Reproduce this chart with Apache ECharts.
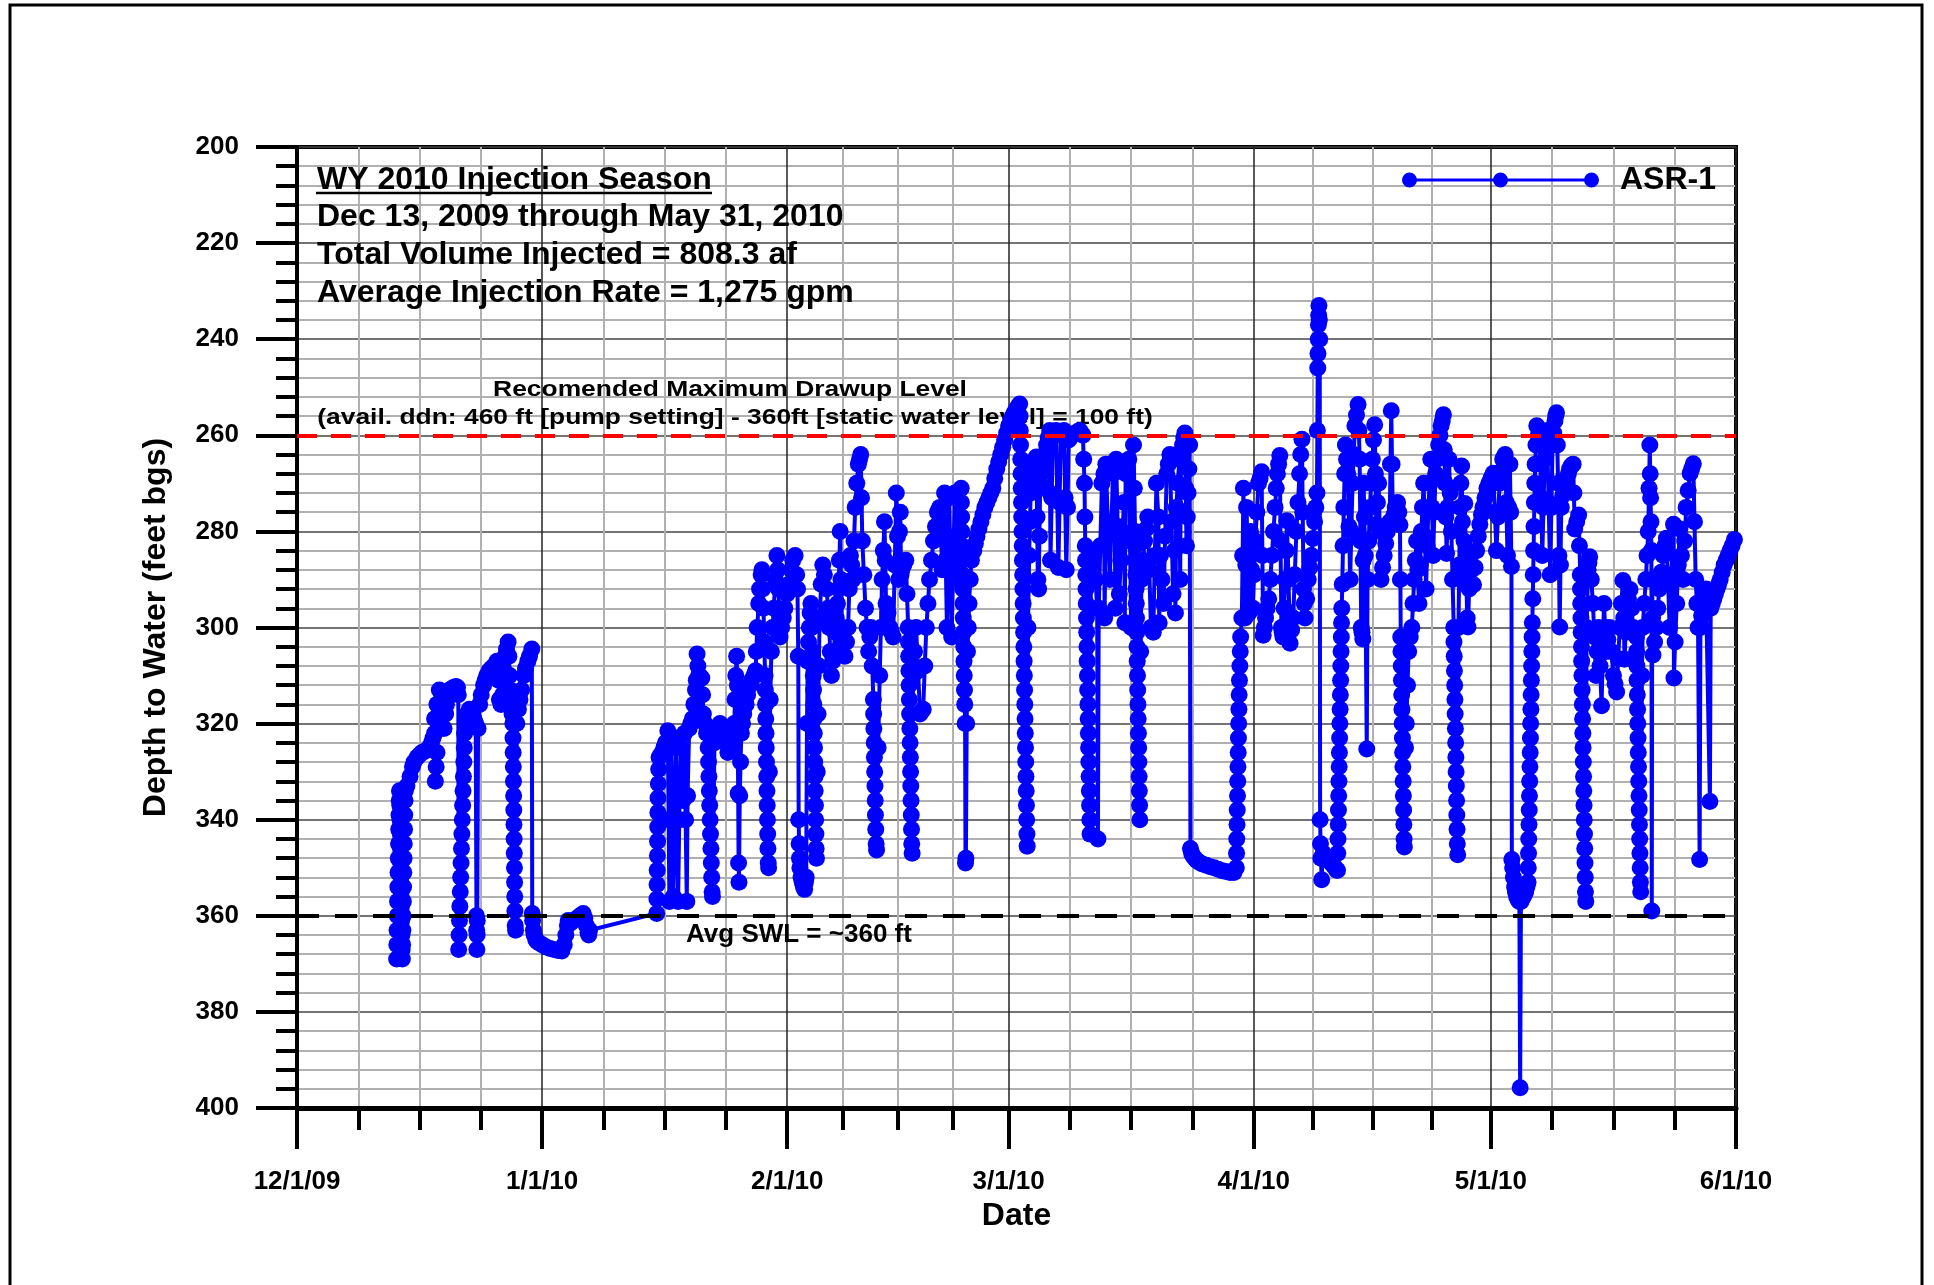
<!DOCTYPE html>
<html>
<head>
<meta charset="utf-8">
<title>ASR-1 WY 2010 Injection Season</title>
<script src="https://cdn.jsdelivr.net/npm/echarts@6/dist/echarts.min.js"></script>
<style>
  html, body { margin: 0; padding: 0; background: #fff; }
  #chart { width: 1934px; height: 1285px; }
</style>
</head>
<body>
<div id="chart"></div>
<script>
// readings: [days after 12/1/09, depth to water in ft bgs]
var decReadings = [
  [12.6,369],[12.63,366],[12.66,363],[12.69,360],[12.72,357],[12.75,354],[12.78,351],[12.81,348],[12.84,345],[12.87,342],[12.9,339],[12.93,336],[12.96,334],
  [13.0,337],[13.03,340],[13.06,343],[13.09,346],[13.12,349],[13.15,352],[13.18,355],[13.21,358],[13.24,361],[13.27,364],[13.3,367],[13.33,369],
  [13.36,366],[13.39,363],[13.42,360],[13.45,357],[13.48,354],[13.51,351],[13.54,348],[13.57,345],[13.6,342],[13.63,339],[13.66,336],[13.7,334],
  [13.9,333],[14.3,331],[14.6,329],[14.8,328],[15.2,327],[15.5,326.5],[15.8,326],[16.1,325.8],[16.4,325.5],[16.7,325],[17.0,324],[17.2,323],[17.4,322],
  [17.6,329],[17.5,332],[17.7,326],[17.4,319],[17.7,316],[18.0,313],[18.3,314],[18.5,315],[18.8,318],[18.6,321],[18.9,316],[19.1,314],[19.3,313],
  [19.6,312.7],[19.8,312.5],[20.1,312.3],[20.3,312.5],[20.4,314],
  [20.45,367],[20.5,364],[20.55,361],[20.6,358],[20.65,355],[20.7,352],[20.75,349],[20.8,346],[20.85,343],[20.9,340],[20.95,337],[21.0,334],
  [21.05,331],[21.1,328],[21.15,325],[21.2,322],[21.3,320],[21.5,318],[21.8,317],[22.0,317.5],[22.2,318],[22.4,319],[22.6,320],
  [22.7,360],[22.72,363],[22.75,367],[22.78,364],[22.8,361],
  [22.9,321],[23.1,316],[23.3,314],[23.6,312],[23.8,311],[24.0,310],[24.3,309],[24.6,308.5],[24.9,308],[25.3,307],[25.5,311],[25.6,315],
  [25.8,316],[26.0,314],[26.2,309],[26.3,306],[26.5,304.5],[26.7,303],[26.8,306],[26.9,310],[27.0,313],[27.1,316],[27.2,318],
  [27.3,320],[27.32,323],[27.34,326],[27.36,329],[27.38,332],[27.4,335],[27.42,338],[27.44,341],[27.46,344],[27.48,347],[27.5,350],
  [27.52,353],[27.54,356],[27.56,359],[27.6,362],[27.65,363],
  [27.8,320],[28.0,317],[28.2,315],[28.4,313],[28.7,310],[28.9,308.5],[29.2,307],[29.4,306],[29.7,304.5],
  [29.75,359.5],[29.8,361],[29.9,363],[30.0,364],[30.2,365],[30.4,365.4],[30.7,365.7]
];
var janReadings = [
  [31.0,366],[31.5,366.5],[32.0,366.8],[32.5,367],[33.0,367.2],[33.5,367.3],[33.8,366],[34.0,364],[34.2,362],[34.3,361],[34.6,361.5],
  [35.0,361],[35.4,360.5],[35.8,360],[36.2,359.5],[36.4,360.5],[36.6,362],[36.8,363.5],[36.9,364],[37.0,363],
  [45.5,359.5],[45.52,356.5],[45.54,353.5],[45.56,350.5],[45.58,347.5],[45.6,344.5],[45.62,341.5],[45.64,338.5],[45.66,335.5],[45.7,332.5],
  [45.75,329.5],[45.8,327],[46.0,326.5],[46.2,326],[46.4,325],[46.6,324],[46.9,321.5],
  [47.0,340],[47.1,357],[47.2,340],[47.3,325],[47.45,340],[47.6,356],[47.75,340],[47.9,323],[48.05,340],[48.2,357],[48.35,340],[48.5,325],
  [48.8,336],[49.0,322],[49.15,340],[49.3,357],[49.4,335],[49.6,321],[49.8,320],[50.0,319],[50.2,316],[50.4,313],[50.5,311],[50.6,305.5],
  [50.7,308],[50.8,310],[51.0,310.2],[51.2,310.5],[51.3,314],[51.4,318],[51.6,320],[51.8,322],[52.0,325],
  [52.05,328],[52.1,331],[52.15,334],[52.2,337],[52.25,340],[52.3,343],[52.35,346],[52.4,349],[52.45,352],[52.5,355],[52.55,356],
  [52.8,324],[53.0,322],[53.3,321],[53.5,320],[53.8,321],[54.0,322],[54.3,324],[54.5,326],[54.8,325],[55.0,324],[55.2,322],[55.3,320],
  [55.4,315],[55.5,310],[55.6,306],[55.7,312],[55.8,334.5],[55.85,349],[55.9,353],[56.0,335],[56.1,328],[56.2,322],[56.35,320],[56.5,318],
  [56.8,316],[57.0,314],[57.3,312],[57.5,311],[57.8,310],[58.0,309],[58.1,305],[58.2,300],[58.4,295],[58.5,292],[58.7,289],[58.8,288],
  [58.9,292],[59.0,296],[59.1,303],[59.2,310],
  [59.23,313],[59.26,316],[59.29,319],[59.32,322],[59.35,325],[59.38,328],[59.41,331],[59.44,334],[59.47,337],[59.5,340],[59.53,343],
  [59.56,346],[59.6,349],[59.65,350],
  [59.75,330],[59.85,315],[60.0,305],[60.15,300],[60.3,296],[60.5,290],[60.7,285],[60.8,288],[60.9,292],[61.0,297],[61.1,302]
];
var febReadings = [
  [61.3,300],[61.5,298],[61.7,296],[62.0,293],[62.2,291],[62.5,288],[62.7,286],[63.0,285],[63.2,289],[63.3,292],[63.4,306],
  [63.45,340],[63.5,345],[63.55,348],[63.6,350],[63.75,352],[63.9,353],[64.05,354],[64.2,354.5],[64.3,353],[64.4,352],
  [64.5,320],[64.6,307],[64.7,303],[64.8,300],[64.9,297],[65.0,295],[65.1,300],[65.2,305],[65.3,310],
  [65.33,313],[65.36,316],[65.39,319],[65.42,322],[65.45,325],[65.48,328],[65.51,331],[65.54,334],[65.57,337],[65.6,340],[65.63,343],
  [65.66,346],[65.7,348],
  [65.8,330],[65.9,318],[66.0,308],[66.1,298],[66.3,291],[66.5,287],[66.7,289],[67.0,292],[67.15,296],[67.3,300],[67.45,305],[67.6,310],
  [67.75,307],[67.9,305],[68.05,301],[68.2,298],[68.35,295],[68.5,292],[68.6,286],[68.7,280],[68.8,290],[68.9,300],[69.1,303],[69.3,306],
  [69.5,303],[69.7,300],[69.85,292],[70.0,285],[70.15,287],[70.3,290],[70.45,282],[70.6,275],[70.8,270],[71.0,266],[71.15,265],[71.3,264],
  [71.4,273],[71.5,282],[71.7,289],[71.9,296],[72.1,300],[72.3,305],[72.45,302],[72.6,300],[72.75,308],
  [72.9,315],[72.93,318],[72.96,321],[73.0,324],[73.03,327],[73.06,330],[73.1,333],[73.13,336],[73.16,339],[73.2,342],[73.25,345],[73.3,346.3],
  [73.5,325],[73.7,310],[73.85,300],[74.0,290],[74.15,284],[74.3,278],[74.4,286],[74.5,295],[74.75,297],[75.0,300],[75.2,301],[75.4,302],
  [75.6,287],[75.8,272],[75.95,281],[76.1,290],[76.2,280],[76.3,276],[76.4,289],[76.5,288],[76.75,287],[77.0,286],[77.15,293],[77.3,300],
  [77.33,303],[77.36,306],[77.39,309],[77.42,312],[77.45,315],[77.48,318],[77.51,321],[77.54,324],[77.57,327],[77.6,330],[77.63,333],
  [77.66,336],[77.69,339],[77.72,342],[77.75,345],[77.8,347],
  [77.9,310],[78.1,305],[78.3,300],[78.55,309],[78.8,318],[79.0,317.5],[79.2,317],[79.4,308],[79.6,300],[79.8,295],[80.0,290],[80.25,286],
  [80.5,282],[80.75,279],[81.0,276],[81.15,275.5],[81.3,275],[81.45,281],[81.6,288],[81.75,280],[81.9,272],[82.05,286],[82.2,300],
  [82.35,286],[82.5,273],[82.65,288],[82.8,302],[83.0,287],[83.2,272],[83.4,281],[83.6,290],[83.8,280],[84.0,271],
  [84.03,274],[84.06,277],[84.09,280],[84.12,283],[84.15,286],[84.18,289],[84.21,292],[84.24,295],[84.27,298],[84.3,301],[84.33,304],
  [84.36,307],[84.39,310],[84.42,313],[84.45,316],[84.5,320],[84.55,349],[84.6,348],[84.7,320],[84.8,305],[84.9,300],[85.0,295],
  [85.15,290],[85.3,286],[85.6,284],[85.8,282.5],[86.0,281],[86.25,279.5],[86.5,278],[86.75,276.5],[87.0,275],[87.25,274],[87.5,273],
  [87.75,272],[88.0,271],[88.25,269],[88.5,267],[88.75,265.5],[89.0,264],[89.25,262.5],[89.5,261],[89.75,259.5],[90.0,258],[90.25,257],
  [90.5,256],[90.75,255.2],[91.0,254.5],[91.2,254],[91.4,253.5]
];
var marReadings = [
  [91.45,256],[91.48,259],[91.51,262],[91.54,265],[91.57,268],[91.6,271],[91.63,274],[91.66,277],[91.69,280],[91.72,283],[91.75,286],
  [91.78,289],[91.81,292],[91.84,295],[91.87,298],[91.9,301],[91.93,304],[91.96,307],[91.99,310],[92.02,313],[92.05,316],[92.08,319],
  [92.11,322],[92.14,325],[92.17,328],[92.2,331],[92.23,334],[92.26,337],[92.29,340],[92.32,343],[92.35,345.5],
  [92.45,300],[92.6,285],[92.7,278],[92.8,272],[92.95,269],[93.1,267],[93.3,265.5],[93.5,264.5],[93.6,277],[93.7,290],[93.8,292],
  [93.9,281],[94.0,270],[94.15,268],[94.3,266],[94.55,264],[94.8,262],[95.0,260.5],[95.2,259],[95.25,272],[95.3,286],[95.45,273],
  [95.6,260],[95.8,259.5],[96.0,259],[96.15,273],[96.3,287.5],[96.45,274],[96.6,260],[96.8,259.5],[97.0,259],[97.15,273],[97.3,288],
  [97.45,275],[97.6,261],[97.8,260.5],[98.0,260],[98.25,259.7],[98.5,259.5],[98.75,259.2],[99.0,259],[99.2,259.5],[99.4,260],
  [99.5,265],[99.6,270],[99.65,277],
  [99.7,283],[99.73,286],[99.76,289],[99.79,292],[99.82,295],[99.85,298],[99.88,301],[99.91,304],[99.94,307],[99.97,310],[100.0,313],
  [100.03,316],[100.06,319],[100.09,322],[100.12,325],[100.15,328],[100.18,331],[100.21,334],[100.24,337],[100.27,340],[100.3,343],
  [100.4,290],[100.6,287],[100.8,285],[101.0,290],[101.2,296],[101.3,344],[101.4,296],[101.6,283],[101.8,270],[102.05,268],[102.15,298],
  [102.3,266],[102.55,278],[102.8,290],[103.0,279],[103.2,268],[103.4,266.5],[103.5,296],[103.6,265],[103.8,279],[104.0,293],[104.2,286],
  [104.4,280],[104.6,274],[104.7,299],[104.8,268],[105.0,266.5],[105.2,265],[105.35,282],[105.5,300],[105.65,281],[105.8,262],[105.9,271],[106.0,280],
  [106.03,283],[106.06,286],[106.09,289],[106.12,292],[106.15,295],[106.18,298],[106.21,301],[106.24,304],[106.27,307],[106.3,310],
  [106.33,313],[106.36,316],[106.39,319],[106.42,322],[106.45,325],[106.48,328],[106.51,331],[106.54,334],[106.57,337],[106.6,340],
  [106.7,305],[106.8,290],[107.0,286],[107.2,282],[107.4,279.5],[107.6,277],[107.8,288],[108.0,300],[108.15,300.5],[108.3,301],
  [108.5,285],[108.7,270],[108.95,277],[109.05,299],[109.2,285],[109.4,290],[109.6,295],[109.8,281],[110.0,268],[110.2,266],[110.4,264],
  [110.6,278],[110.8,293],[111.0,284],[111.1,297],[111.2,275],[111.4,270],[111.6,265],[111.7,290],[111.8,263.5],[112.0,262],[112.15,260.5],
  [112.3,259.5],[112.4,271],[112.5,283],[112.6,277],[112.7,272],[112.8,267],[112.9,262],
  [113.0,346],[113.15,347],[113.3,347.5],[113.55,348],[113.8,348.5],[114.15,348.9],[114.5,349.2],[115.0,349.5],[115.5,349.8],[116.0,350],
  [116.5,350.3],[117.0,350.6],[117.5,350.8],[118.0,351],[118.5,351],
  [118.8,350],[118.83,347],[118.86,344],[118.89,341],[118.92,338],[118.95,335],[118.98,332],[119.01,329],[119.04,326],[119.07,323],
  [119.1,320],[119.13,317],[119.16,314],[119.2,311],[119.25,308],[119.3,305],[119.35,302],[119.5,298]
];
var aprReadings = [
  [119.6,285],[119.7,271],[119.8,285],[119.9,298],[120.0,287],[120.1,275],[120.25,286],[120.4,297],[120.5,289],[120.6,280],[120.75,288],
  [120.9,296],[121.05,289],[121.2,282],[121.4,276],[121.6,270],[121.8,269],[122.0,267.6],[122.1,285],[122.2,301.6],[122.35,300],
  [122.5,298],[122.7,296],[122.9,294],[123.1,290],[123.3,285],[123.5,280],[123.7,275],[123.85,271],[124.0,268],[124.15,266],[124.3,264.2],
  [124.4,282],[124.5,300],[124.6,301],[124.7,302],[124.85,296],[125.0,290],[125.1,284],[125.2,277.8],[125.4,290],[125.6,303.3],
  [125.8,300.5],[126.0,298],[126.2,289],[126.4,280],[126.6,274],[126.8,268],[126.95,264],[127.1,260.8],[127.2,276],[127.3,292],
  [127.4,295],[127.5,298],[127.7,294],[127.9,290],[128.1,287.5],[128.3,285],[128.5,281.5],[128.7,278],[128.85,275],[129.0,272],
  [129.05,259],[129.1,246],[129.13,243],[129.16,240],[129.19,237],[129.22,235],[129.25,233],[129.3,236],[129.35,240],
  [129.4,340],[129.45,345],[129.5,348],[129.6,352.5],[129.7,348],[129.8,347],[130.05,347.5],[130.3,348],[130.55,348.5],[130.8,349],
  [131.05,349.5],[131.3,350],[131.5,350.5],
  [131.6,350.5],[131.63,347],[131.66,344],[131.69,341],[131.72,338],[131.75,335],[131.78,332],[131.81,329],[131.84,326],[131.87,323],
  [131.9,320],[131.93,317],[131.96,314],[131.99,311],[132.02,308],[132.05,305],[132.08,302],[132.11,299],[132.14,296],[132.2,291],
  [132.3,283],[132.4,275],[132.5,268],[132.6,262],[132.75,265],[132.9,268],[133.05,279],[133.2,290],[133.35,280],[133.5,270],
  [133.65,264],[133.8,258],[134.0,255.8],[134.2,253.6],[134.3,259],[134.4,265],[134.5,282],[134.6,300],[134.7,301],[134.8,302.4],
  [134.85,286],[134.9,270],[135.0,277],[135.1,285],[135.3,325.3],[135.4,290],[135.55,282],[135.7,275],[135.85,270],[136.0,265],
  [136.15,261],[136.3,257.8],[136.4,268],[136.5,278.6],[136.65,274],[136.8,270],[136.95,280],[137.1,290],[137.3,287.5],[137.5,285],
  [137.7,282.5],[137.9,280],[138.05,279],[138.2,278],[138.3,266],[138.4,254.9],[138.5,266],[138.6,277.8],[138.75,276.5],[138.9,275],
  [139.05,274.5],[139.2,274],[139.35,276],[139.5,278.6],[139.55,290],
  [139.6,302],[139.63,305],[139.66,308],[139.69,311],[139.72,314],[139.75,317],[139.78,320],[139.81,323],[139.84,326],[139.87,329],
  [139.9,332],[139.93,335],[139.96,338],[139.99,341],[140.02,344],[140.05,345.7],
  [140.2,325],[140.3,320],[140.45,312],[140.6,305],[140.8,302],[141.0,300],[141.15,295],[141.3,290],[141.45,286],[141.6,282],[141.75,288],
  [141.9,295],[142.05,287],[142.2,280],[142.35,275],[142.5,270],[142.65,281],[142.8,292],[142.95,283],[143.1,275],[143.25,270],
  [143.4,265],[143.55,275],[143.7,285],[143.85,276],[144.0,268],[144.2,265],[144.4,262],[144.55,260],[144.7,258],[144.85,257],
  [145.0,255.7],[145.1,263],[145.2,270],[145.3,277],[145.4,284.6],[145.55,275],[145.7,265],[145.85,272],[146.0,280],[146.15,290],[146.3,300],
  [146.33,303],[146.36,306],[146.39,309],[146.42,312],[146.45,315],[146.48,318],[146.51,321],[146.54,324],[146.57,327],[146.6,330],
  [146.63,333],[146.66,336],[146.69,339],[146.72,342],[146.75,345],[146.8,347.3],
  [146.9,300],[147.0,287],[147.1,275],[147.2,270],[147.3,266.4],[147.4,278],[147.5,290],[147.6,282],[147.7,274.2],[147.85,286],
  [148.0,298],[148.1,299.9],[148.25,292],[148.4,285],[148.6,288],[148.8,291.1],[149.0,287.5],[149.2,284],[149.4,281],[149.6,278.5],
  [149.8,276.5],[150.0,275]
];
var mayReadings = [
  [150.25,273],[150.5,271],[150.75,270],[151.0,269],[151.15,268.5],[151.3,267.9],[151.5,276],[151.7,284],[151.9,277],[152.1,270],
  [152.3,267.5],[152.5,265],[152.65,264.5],[152.8,264],[152.95,274],[153.1,285],[153.25,275],[153.4,266],[153.5,276],[153.6,287.3],
  [153.65,348.3],[153.75,350],[153.85,352],[154.0,354],[154.1,355],[154.25,356],[154.4,356.5],[154.5,356.8],[154.6,357],[154.7,395.8],
  [154.8,357],[154.95,356.5],[155.1,356],[155.25,355.5],[155.4,355],[155.55,354],[155.7,353],
  [155.73,350],[155.76,347],[155.79,344],[155.82,341],[155.85,338],[155.88,335],[155.91,332],[155.94,329],[155.97,326],[156.0,323],
  [156.03,320],[156.06,317],[156.09,314],[156.12,311],[156.15,308],[156.18,305],[156.21,302],[156.24,299],[156.3,294],[156.35,289],
  [156.4,284],[156.45,279],[156.5,274],[156.55,270],[156.6,266],[156.7,262],[156.8,258],
  [157.0,260],[157.2,262],[157.35,273],[157.5,285],[157.65,275],[157.8,265],[157.95,262],[158.1,259],[158.3,274],[158.5,289],
  [158.65,275],[158.8,262],[158.95,259.5],[159.1,257],[159.2,256],[159.3,255.3],[159.4,262],[159.5,270],[159.6,285],[159.7,299.9],
  [159.8,287],[159.9,275],[160.1,272.5],[160.3,270],[160.55,269],[160.8,268],[160.95,267],[161.1,266.5],[161.25,266.2],[161.4,266],
  [161.5,272],[161.6,279.5],[161.85,278],[162.1,276.6],[162.2,283],[162.3,289],
  [162.33,292],[162.36,295],[162.39,298],[162.42,301],[162.45,304],[162.48,307],[162.51,310],[162.54,313],[162.57,316],[162.6,319],
  [162.63,322],[162.66,325],[162.69,328],[162.72,331],[162.75,334],[162.78,337],[162.81,340],[162.84,343],[162.87,346],[162.9,349],
  [162.93,352],[162.96,355],[163.0,357],
  [163.1,300],[163.3,288],[163.4,286.5],[163.5,285.3],[163.7,290],[163.9,295],[164.1,302],[164.3,310],[164.45,305],[164.6,300],
  [164.8,308],[165.0,316.3],[165.15,305],[165.3,295],[165.45,300],[165.6,305],[165.8,302.5],[166.0,300],[166.25,305],[166.5,310],
  [166.7,311.7],[166.9,313.4],[167.1,306.5],[167.3,300],[167.5,295],[167.7,290.2],[167.8,298],[167.9,306.6],[168.05,301],[168.2,296],
  [168.4,294],[168.6,292.1],[168.8,296],[169.0,300],[169.2,301],[169.4,302],
  [169.43,305],[169.46,308],[169.49,311],[169.52,314],[169.55,317],[169.58,320],[169.61,323],[169.64,326],[169.67,329],[169.7,332],
  [169.73,335],[169.76,338],[169.79,341],[169.82,344],[169.85,347],[169.88,350],[169.91,353],[169.95,355],
  [170.1,310],[170.2,300],[170.4,295],[170.6,290],[170.75,285],[170.9,280],[171.0,271],[171.1,262],[171.15,268],[171.2,273],
  [171.25,278],[171.3,284],[171.35,359],[171.4,290],[171.45,298],[171.5,305.7],[171.7,303],[171.9,300],[172.1,296],[172.3,292],
  [172.55,288.5],[172.8,285],[173.0,283],[173.2,281.4],[173.4,290],[173.6,300],[173.85,289],[174.1,278.5],[174.15,310.5],[174.3,303],
  [174.5,295],[174.7,287],[174.9,279.5],[175.1,285],[175.3,290],[175.5,282],[175.7,275],[175.95,271.5],[176.2,267.9],[176.4,266.9],
  [176.6,265.9],[176.75,278],[176.9,290],[177.05,295],[177.2,300],[177.4,348.3],[177.5,300],[177.65,297.5],[177.8,295],[178.0,293.5],
  [178.2,292],[178.7,336.2],[178.8,296],[179.0,295],[179.2,294],[179.4,293],[179.6,292],[179.8,291],[180.0,290],[180.25,288.5],
  [180.5,287],[180.75,286],[181.0,285],[181.25,284],[181.5,283],[181.8,281.7],[182.1,280.5]
];

var drawupLimit = 260;   // recommended max drawup level, ft bgs
var avgSwl = 360;        // average static water level, ft bgs

var DAY = 86400000;
var startMs = new Date(2009, 11, 1).getTime();
var endMs = new Date(2010, 5, 1).getTime();

var asr1 = [].concat(decReadings, janReadings, febReadings, marReadings, aprReadings, mayReadings)
  .map(function (p) { return [startMs + p[0] * DAY, p[1]]; });

var FONT = '"Liberation Sans", Arial, sans-serif';

// legend sample: line with three dots, like the original key
var legendIcon = 'path://M0,7.5 A7.5,7.5 0 1 1 15,7.5 A7.5,7.5 0 1 1 0,7.5 Z ' +
  'M91,7.5 A7.5,7.5 0 1 1 106,7.5 A7.5,7.5 0 1 1 91,7.5 Z ' +
  'M182,7.5 A7.5,7.5 0 1 1 197,7.5 A7.5,7.5 0 1 1 182,7.5 Z ' +
  'M7.5,6 L189.5,6 L189.5,9 L7.5,9 Z';

var option = {
  animation: false,
  backgroundColor: '#ffffff',
  textStyle: { fontFamily: FONT },
  grid: {
    left: 297, right: 198, top: 147, bottom: 177,
    show: true, borderColor: '#000', borderWidth: 4,
    containLabel: false, outerBoundsMode: 'none'
  },
  legend: {
    left: 1402, top: 164, padding: 0,
    selectedMode: false,
    itemWidth: 197, itemHeight: 16,
    itemStyle: { color: '#0000ff', borderWidth: 0 },
    data: [{ name: 'ASR-1', icon: legendIcon }],
    textStyle: { fontFamily: FONT, fontSize: 32, fontWeight: 'bold', color: '#000', padding: [0, 0, 0, 16] }
  },
  xAxis: {
    type: 'time',
    min: startMs, max: endMs,
    splitNumber: 6,
    axisLine: { onZero: false, lineStyle: { color: '#000', width: 5 } },
    axisTick: { show: true, length: 41, lineStyle: { color: '#000', width: 4 } },
    minorTick: { show: true, splitNumber: 4, length: 22, lineStyle: { color: '#000', width: 4 } },
    splitLine: { show: true, lineStyle: { color: '#222', width: 1.5 } },
    minorSplitLine: { show: true, lineStyle: { color: '#b0b0b0', width: 2 } },
    axisLabel: {
      color: '#000', fontSize: 26, fontWeight: 'bold', fontFamily: FONT, margin: 61,
      showMinLabel: true, showMaxLabel: true,
      formatter: function (val) {
        var d = new Date(val);
        return (d.getMonth() + 1) + '/' + d.getDate() + '/' + String(d.getFullYear()).slice(2);
      }
    },
    name: 'Date', nameLocation: 'middle', nameGap: 89,
    nameTextStyle: { color: '#000', fontSize: 32, fontWeight: 'bold', fontFamily: FONT }
  },
  yAxis: {
    type: 'value', inverse: true,
    min: 200, max: 400, interval: 20,
    axisLine: { show: true, onZero: false, lineStyle: { color: '#000', width: 4 } },
    axisTick: { show: true, length: 41, lineStyle: { color: '#000', width: 4 } },
    minorTick: { show: true, splitNumber: 5, length: 21, lineStyle: { color: '#000', width: 4 } },
    splitLine: { show: true, lineStyle: { color: '#444', width: 1.5 } },
    minorSplitLine: { show: true, lineStyle: { color: '#b0b0b0', width: 2 } },
    axisLabel: { color: '#000', fontSize: 26, fontWeight: 'bold', fontFamily: FONT, margin: 58, padding: [3, 0, 0, 0] },
    name: 'Depth to Water (feet bgs)', nameLocation: 'middle', nameGap: 125,
    nameTextStyle: { color: '#000', fontSize: 32, fontWeight: 'bold', fontFamily: FONT }
  },
  series: [{
    name: 'ASR-1',
    type: 'line',
    data: asr1,
    symbol: 'circle',
    symbolSize: 17,
    showSymbol: true,
    silent: true,
    z: 3,
    itemStyle: { color: '#0000ff' },
    lineStyle: { color: '#0000ff', width: 4 },
    markLine: {
      silent: true,
      symbol: 'none',
      label: { show: false },
      data: [
        { yAxis: drawupLimit, lineStyle: { color: '#ff0000', width: 4, type: [20, 14] } },
        { yAxis: avgSwl, lineStyle: { color: '#000000', width: 4, type: [22, 16] } }
      ]
    }
  }],
  graphic: [
    { type: 'rect', z: 0, silent: true,
      shape: { x: 10, y: 5, width: 1912, height: 1300 },
      style: { fill: 'none', stroke: '#000', lineWidth: 3 } },
    { type: 'text', z: 1, x: 317, y: 180, silent: true,
      style: { text: 'WY 2010 Injection Season', font: 'bold 32px ' + FONT, fill: '#000', align: 'left', verticalAlign: 'middle' } },
    { type: 'line', z: 1, silent: true,
      shape: { x1: 316, y1: 193, x2: 712, y2: 193 },
      style: { stroke: '#000', lineWidth: 2.5 } },
    { type: 'text', z: 1, x: 317, y: 217, silent: true,
      style: { text: 'Dec 13, 2009 through May 31, 2010', font: 'bold 32px ' + FONT, fill: '#000', align: 'left', verticalAlign: 'middle' } },
    { type: 'text', z: 1, x: 317, y: 255, silent: true,
      style: { text: 'Total Volume Injected = 808.3 af', font: 'bold 32px ' + FONT, fill: '#000', align: 'left', verticalAlign: 'middle' } },
    { type: 'text', z: 1, x: 317, y: 293, silent: true,
      style: { text: 'Average Injection Rate = 1,275 gpm', font: 'bold 32px ' + FONT, fill: '#000', align: 'left', verticalAlign: 'middle' } },
    { type: 'text', z: 1, x: 730, y: 390, scaleX: 1.2, silent: true,
      style: { text: 'Recomended Maximum Drawup Level', font: 'bold 22px ' + FONT, fill: '#000', align: 'center', verticalAlign: 'middle' } },
    { type: 'text', z: 1, x: 735, y: 418, scaleX: 1.2, silent: true,
      style: { text: '(avail. ddn: 460 ft [pump setting] - 360ft [static water level] = 100 ft)', font: 'bold 22px ' + FONT, fill: '#000', align: 'center', verticalAlign: 'middle' } },
    { type: 'text', z: 1, x: 686, y: 935, silent: true,
      style: { text: 'Avg SWL = ~360 ft', font: 'bold 26px ' + FONT, fill: '#000', align: 'left', verticalAlign: 'middle' } }
  ]
};

var myChart = echarts.init(document.getElementById('chart'));
myChart.setOption(option);
</script>
</body>
</html>
